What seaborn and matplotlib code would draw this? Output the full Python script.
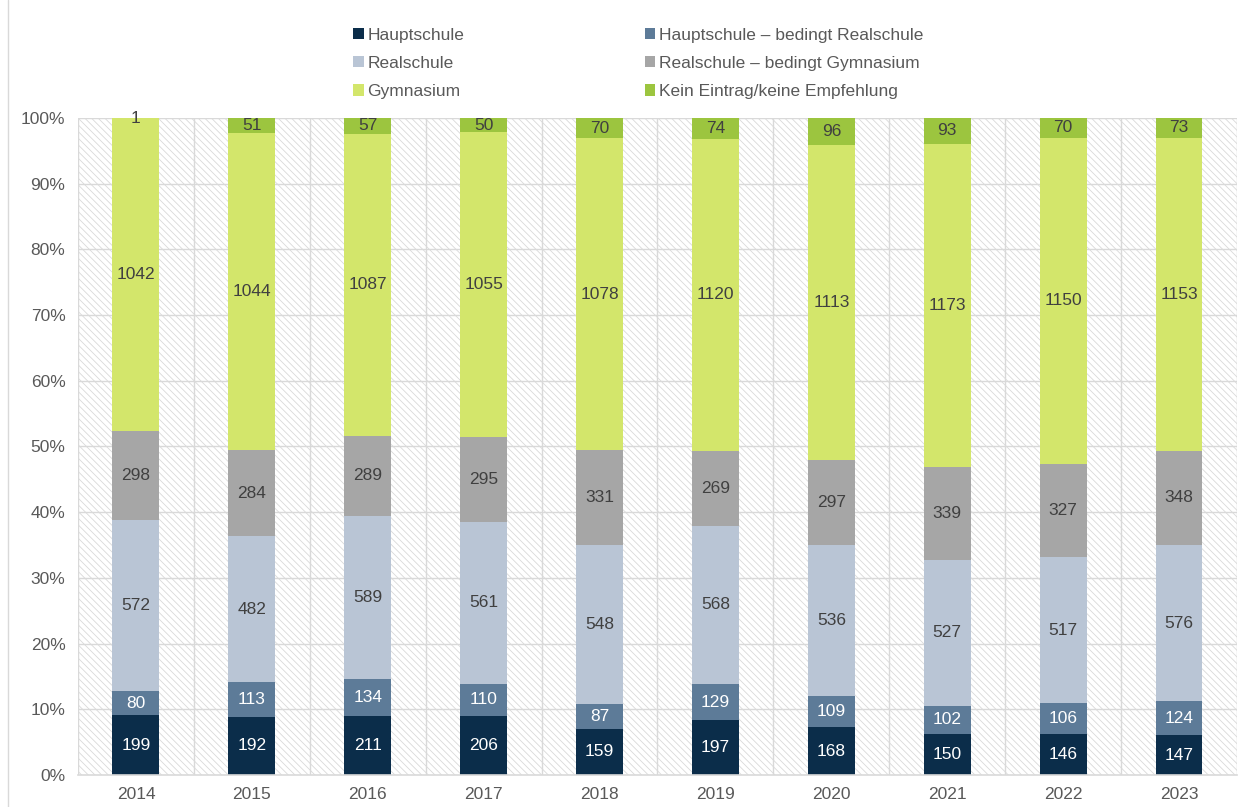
import numpy as np
import pandas as pd
import matplotlib
matplotlib.use("Agg")
import matplotlib.pyplot as plt
from matplotlib.patches import Rectangle, Patch
import seaborn as sns

years = ["2014", "2015", "2016", "2017", "2018", "2019", "2020", "2021", "2022", "2023"]
categories = ["Hauptschule", "Hauptschule \u2013 bedingt Realschule", "Realschule",
              "Realschule \u2013 bedingt Gymnasium", "Gymnasium", "Kein Eintrag/keine Empfehlung"]
hauptschule = [199, 192, 211, 206, 159, 197, 168, 150, 146, 147]
haupt_bed_real = [80, 113, 134, 110, 87, 129, 109, 102, 106, 124]
realschule = [572, 482, 589, 561, 548, 568, 536, 527, 517, 576]
real_bed_gym = [298, 284, 289, 295, 331, 269, 297, 339, 327, 348]
gymnasium = [1042, 1044, 1087, 1055, 1078, 1120, 1113, 1173, 1150, 1153]
kein_eintrag = [1, 51, 57, 50, 70, 74, 96, 93, 70, 73]

colors = ["#0b2d4a", "#5d7b98", "#b9c5d5", "#a6a6a6", "#d3e66b", "#9cc53f"]
text_colors = ["white", "white", "#404040", "#404040", "#404040", "#404040"]

series = [hauptschule, haupt_bed_real, realschule, real_bed_gym, gymnasium, kein_eintrag]
counts = np.array(series, dtype=float)
totals = counts.sum(axis=0)
pct = counts / totals * 100
cum = np.cumsum(pct, axis=0)

sns.set_style("white")
plt.rcParams["font.family"] = ["Liberation Sans", "DejaVu Sans"]
plt.rcParams["hatch.linewidth"] = 0.6
plt.rcParams["hatch.color"] = "#d9d9d9"

fig = plt.figure(figsize=(12.54, 8.07), dpi=100)
ax = fig.add_axes([0.0622, 0.0397, 0.9242, 0.8141])

# hatched plot background
ax.add_patch(Rectangle((0, 0), 1, 1, transform=ax.transAxes, facecolor="white",
                       edgecolor="#d9d9d9", hatch="\\\\\\\\\\", linewidth=0, zorder=0))

# draw stacked bars (top-most cumulative first)
for i in range(len(categories) - 1, -1, -1):
    df = pd.DataFrame({"Jahr": years, "Wert": cum[i]})
    sns.barplot(data=df, x="Jahr", y="Wert", color=colors[i], width=0.405,
                saturation=1, ax=ax, zorder=3, linewidth=0)

# labels
for i in range(len(categories)):
    for j in range(len(years)):
        bottom = cum[i][j] - pct[i][j]
        ymid = bottom + pct[i][j] / 2
        if i == len(categories) - 1 and pct[i][j] < 1:
            ymid = 99.85
        ax.text(j, ymid, f"{int(counts[i][j])}", ha="center", va="center",
                fontsize=12.5, color=text_colors[i], zorder=5)

ax.set_xlim(-0.5, len(years) - 0.5)
ax.set_ylim(0, 100)
ax.set_yticks(np.arange(0, 101, 10))
ax.set_yticklabels([f"{v}%" for v in range(0, 101, 10)])
ax.set_xlabel("")
ax.set_ylabel("")
ax.tick_params(axis="both", labelsize=12.5, labelcolor="#595959", length=0, pad=9)

# gridlines
for v in range(10, 101, 10):
    ax.axhline(v, color="#d9d9d9", linewidth=1, zorder=1)
for k in range(len(years) + 1):
    ax.axvline(k - 0.5, color="#d9d9d9", linewidth=1, zorder=1)

for s in ["top", "right", "left"]:
    ax.spines[s].set_visible(False)
ax.spines["bottom"].set_color("#d9d9d9")
ax.spines["bottom"].set_linewidth(1.2)
ax.spines["bottom"].set_zorder(4)

order = [0, 2, 4, 1, 3, 5]
handles = [Patch(facecolor=colors[k], edgecolor="none") for k in order]
labels = [categories[k] for k in order]
fig.legend(handles, labels, loc="upper left", bbox_to_anchor=(0.2694, 0.985),
           ncol=2, frameon=False, fontsize=12.5, labelcolor="#595959",
           handlelength=0.6, handleheight=0.6, handletextpad=0.2,
           columnspacing=10.4, labelspacing=0.76)

# figure frame line on left
fig.add_artist(plt.Line2D([0.0065, 0.0065], [0, 1], color="#d9d9d9", linewidth=1,
                          transform=fig.transFigure))

fig.savefig("out.png", dpi=100)
